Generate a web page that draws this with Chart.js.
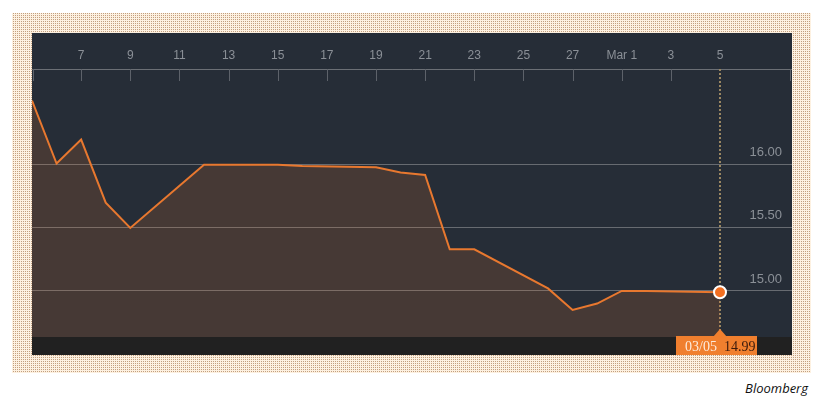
<!DOCTYPE html>
<html>
<head>
<meta charset="utf-8">
<script src="https://cdn.jsdelivr.net/npm/chart.js@4.4.1/dist/chart.umd.min.js"></script>
<style>
  body { margin: 0; background: #fff; width: 824px; height: 403px; position: relative; overflow: hidden; }
  #frame {
    position: absolute; left: 12px; top: 13px; width: 799px; height: 360px;
    background: conic-gradient(#c39f7f 25%, #fdf1e1 0) 0 0 / 2px 2px;
  }
  #chartBox { position: absolute; left: 32px; top: 33px; width: 760px; height: 322px; }
  #source {
    position: absolute; right: 16px; top: 379px;
    font: italic 13px "Open Sans", Lato, sans-serif; color: #111;
  }
</style>
</head>
<body>
<div id="frame"></div>
<div id="chartBox"><canvas id="myChart" width="760" height="322"></canvas></div>
<div id="source">Bloomberg</div>
<script>
// day number counted from Feb 1 (Mar 1 = 29)
const days = [5, 6, 7, 8, 9, 12, 13, 14, 15, 16, 19, 20, 21, 22, 23, 26, 27, 28, 29, 30, 33];
const prices = [16.51, 16.01, 16.20, 15.70, 15.50, 16.00, 16.00, 16.00, 16.00, 15.99, 15.98,
                15.94, 15.92, 15.33, 15.33, 15.02, 14.85, 14.90, 15.00, 15.00, 14.99];
const tickDays = [7, 9, 11, 13, 15, 17, 19, 21, 23, 25, 27, 29, 31, 33];
const tickLabels = ['7', '9', '11', '13', '15', '17', '19', '21', '23', '25', '27', 'Mar 1', '3', '5'];
const yTicks = [15, 15.5, 16];
const lastLabel = '03/05';

let points = [];
for (let i = 0; i < days.length; i++) {
    points.push({x: days[i], y: prices[i]});
}
const lastIdx = points.length - 1;

const panelPlugin = {
    id: 'panel',
    beforeDraw(chart) {
        const ctx = chart.ctx;
        const a = chart.chartArea;
        ctx.save();
        ctx.fillStyle = '#262d37';
        ctx.fillRect(0, 0, chart.width, chart.height);
        ctx.fillStyle = '#212121';
        ctx.fillRect(0, a.bottom, chart.width, chart.height - a.bottom);
        ctx.restore();
    },
    beforeDatasetsDraw(chart) {
        // dotted cursor line at the last point
        const ctx = chart.ctx;
        const a = chart.chartArea;
        const px = chart.scales.x.getPixelForValue(days[lastIdx]);
        ctx.save();
        ctx.strokeStyle = '#9a8762';
        ctx.lineWidth = 2;
        ctx.setLineDash([2, 2]);
        ctx.beginPath();
        ctx.moveTo(px, a.top);
        ctx.lineTo(px, a.bottom);
        ctx.stroke();
        ctx.restore();
    },
    afterDraw(chart) {
        const ctx = chart.ctx;
        const a = chart.chartArea;
        const xs = chart.scales.x;
        const px = xs.getPixelForValue(days[lastIdx]);
        ctx.save();
        // tick marks hanging below the top axis line
        ctx.strokeStyle = '#5d626a';
        ctx.lineWidth = 1;
        let marks = tickDays.map(d => Math.round(xs.getPixelForValue(d)) + 0.5);
        marks.push(a.left + 1.5, a.right - 1.5);
        for (let m of marks) {
            if (Math.abs(m - px) < 2) continue;
            ctx.beginPath();
            ctx.moveTo(m, a.top);
            ctx.lineTo(m, a.top + 12);
            ctx.stroke();
        }
        // last value flag
        const boxL = px - 44, boxT = a.bottom - 1, boxW = 81, boxH = 20;
        ctx.fillStyle = '#f07f2e';
        ctx.fillRect(boxL, boxT, boxW, boxH);
        ctx.beginPath();
        ctx.moveTo(px - 7, boxT + 1);
        ctx.lineTo(px, boxT - 7);
        ctx.lineTo(px + 7, boxT + 1);
        ctx.closePath();
        ctx.fill();
        ctx.font = '14px "Liberation Serif", "DejaVu Serif", serif';
        ctx.textBaseline = 'alphabetic';
        ctx.textAlign = 'left';
        ctx.fillStyle = '#fdeadb';
        ctx.fillText(lastLabel, boxL + 9, boxT + 15);
        ctx.fillStyle = '#3a1a0c';
        ctx.fillText(prices[lastIdx].toFixed(2), boxL + 48, boxT + 15);
        ctx.restore();
    }
};

const config = {
    type: 'line',
    data: {
        datasets: [{
            data: points,
            borderColor: '#e8782f',
            borderWidth: 2,
            backgroundColor: 'rgba(232, 120, 47, 0.17)',
            fill: 'start',
            tension: 0,
            pointRadius: ctx => ctx.dataIndex === lastIdx ? 6 : 0,
            pointHoverRadius: 0,
            pointBackgroundColor: '#f26f21',
            pointBorderColor: '#ffffff',
            pointBorderWidth: 2
        }]
    },
    options: {
        responsive: false,
        animation: false,
        events: [],
        layout: { autoPadding: false, padding: { top: 8.6, bottom: 18, left: 0, right: 0 } },
        plugins: { legend: { display: false }, tooltip: { enabled: false } },
        scales: {
            x: {
                type: 'linear',
                position: 'top',
                min: 5,
                max: 35.93,
                afterBuildTicks: scale => { scale.ticks = tickDays.map(v => ({value: v})); },
                afterFit: scale => { scale.paddingLeft = 0; scale.paddingRight = 0; },
                ticks: {
                    autoSkip: false,
                    maxRotation: 0,
                    padding: 6.5,
                    color: '#8b9097',
                    font: { family: '"Liberation Sans", Arial, sans-serif', size: 12 },
                    callback: (v, i) => tickLabels[i]
                },
                grid: { display: true, drawOnChartArea: false, drawTicks: false },
                border: { display: true, color: '#6b6f75', width: 1 }
            },
            y: {
                position: 'right',
                min: 14.635,
                max: 16.76,
                afterBuildTicks: scale => { scale.ticks = yTicks.map(v => ({value: v})); },
                afterFit: scale => { scale.width = 0; scale.paddingTop = 0; scale.paddingBottom = 0; },
                ticks: {
                    mirror: true,
                    padding: -10,
                    labelOffset: -12,
                    color: '#8b9097',
                    font: { family: '"Liberation Sans", Arial, sans-serif', size: 13 },
                    callback: v => Number(v).toFixed(2)
                },
                grid: { color: '#676b71', lineWidth: 1, drawTicks: false },
                border: { display: false }
            }
        }
    },
    plugins: [panelPlugin]
};

const myChart = new Chart(document.getElementById('myChart'), config);
</script>
</body>
</html>
